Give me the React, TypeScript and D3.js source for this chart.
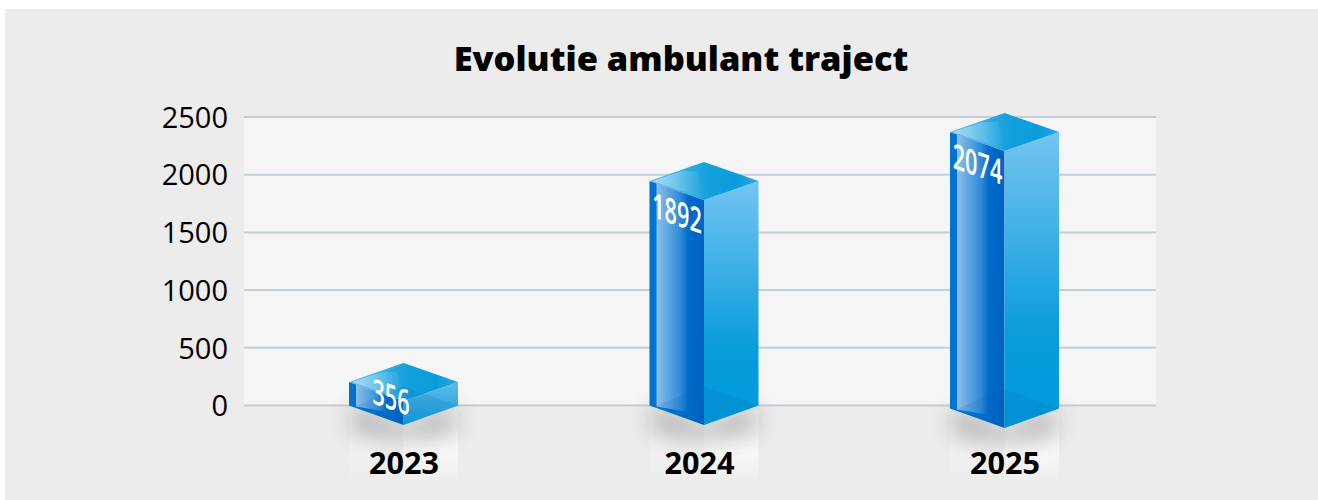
import React from "react";
import * as d3 from "d3";

const categories = ["2023", "2024", "2025"];
const values = [356, 1892, 2074];
const yTicks = [0, 500, 1000, 1500, 2000, 2500];
const title = "Evolutie ambulant traject";

const W = 1318, H = 500;
const y = d3.scaleLinear().domain([0, 2500]).range([405.5, 117]);
const x = d3.scalePoint<string>().domain(categories).range([403.5, 1004.5]);
// The bars are pictorial: their height is not linear with the y axis.
const apexY = d3.scaleLinear().domain([356, 1892, 2074]).range([363, 162, 113]);
const baseY = d3.scaleOrdinal<string, number>().domain(categories).range([425, 425, 428]);
const labelShift = d3.scaleOrdinal<string, number>().domain(categories).range([0.5, -4.5, 0.5]);
const halfW = 54.5, rise = 19;

const pts = (p: [number, number][]) => p.map((q) => q.join(",")).join(" ");

export default function App() {
  return (
    <svg width={W} height={H} style={{ position: "absolute", left: 0, top: 0, background: "#fff" }}>
      <defs>
        <linearGradient id="right" x1="0" y1="0" x2="0" y2="1">
          <stop offset="0" stopColor="#74c5f1" />
          <stop offset="0.68" stopColor="#0a9cdb" />
          <stop offset="1" stopColor="#009ad9" />
        </linearGradient>
        <linearGradient id="rightLow" x1="0" y1="0" x2="0" y2="1">
          <stop offset="0" stopColor="#5fbae8" />
          <stop offset="1" stopColor="#0f9ddb" />
        </linearGradient>
        <linearGradient id="left" x1="0" y1="0" x2="1" y2="0">
          <stop offset="0" stopColor="#0072d0" />
          <stop offset="0.5" stopColor="#0072d0" />
          <stop offset="1" stopColor="#0062c0" />
        </linearGradient>
        <linearGradient id="shine" x1="0" y1="0" x2="1" y2="0">
          <stop offset="0" stopColor="#ffffff" stopOpacity="0.55" />
          <stop offset="0.8" stopColor="#ffffff" stopOpacity="0.16" />
          <stop offset="1" stopColor="#ffffff" stopOpacity="0" />
        </linearGradient>
        <linearGradient id="top" x1="0" y1="0" x2="1" y2="0">
          <stop offset="0" stopColor="#5dbceb" />
          <stop offset="0.55" stopColor="#12a0dc" />
          <stop offset="0.8" stopColor="#0a9cda" />
          <stop offset="1" stopColor="#2aa8e0" />
        </linearGradient>
        <linearGradient id="topShine" x1="0" y1="0" x2="1" y2="0">
          <stop offset="0" stopColor="#ffffff" stopOpacity="0.5" />
          <stop offset="1" stopColor="#ffffff" stopOpacity="0" />
        </linearGradient>
        <linearGradient id="reflL" x1="0" y1="0" x2="0" y2="1">
          <stop offset="0" stopColor="#ffffff" stopOpacity="0.1" />
          <stop offset="0.6" stopColor="#ffffff" stopOpacity="0.25" />
          <stop offset="1" stopColor="#ffffff" stopOpacity="0" />
        </linearGradient>
        <linearGradient id="reflR" x1="0" y1="0" x2="0" y2="1">
          <stop offset="0" stopColor="#ffffff" stopOpacity="0.3" />
          <stop offset="0.6" stopColor="#ffffff" stopOpacity="0.6" />
          <stop offset="1" stopColor="#ffffff" stopOpacity="0" />
        </linearGradient>
        <filter id="blur" x="-40%" y="-100%" width="180%" height="300%">
          <feGaussianBlur stdDeviation="12" />
        </filter>
      </defs>

      <rect x={5} y={9} width={W - 5} height={H - 9} fill="#ececec" />
      <rect x={244} y={y(2500)} width={912} height={y(0) - y(2500)} fill="#f5f5f5" />

      {yTicks.map((t) => (
        <g key={t}>
          <line x1={244} x2={1156} y1={y(t)} y2={y(t)} stroke="#c4ced5" strokeWidth={2} />
          <text x={228} y={y(t)} dy="0.37em" textAnchor="end" fontFamily="'Open Sans'" fontSize={29} fill="#000">
            {t}
          </text>
        </g>
      ))}

      <text x={681} y={71} textAnchor="middle" fontFamily="'Open Sans'" fontWeight={800} fontSize={34.4} fill="#000">
        {title}
      </text>

      {categories.map((c, i) => {
        const cx = x(c)!;
        const v = values[i];
        const apex = apexY(v);
        const base = baseY(c);
        const l = cx - halfW, r = cx + halfW;
        const mid = apex + rise, front = apex + 2 * rise;
        const bl = base - 19.5, br = base - 19.5;
        const tall = base - front > 60;
        const labelY = mid + Math.min(32, (bl - mid) * 0.64);
        const labelX = tall ? cx - 27 : cx - 12.5;
        return (
          <g key={c}>
            <rect x={l} y={base - 15} width={halfW} height={H - base - 1} fill="url(#reflL)" />
            <rect x={cx} y={base - 15} width={halfW} height={H - base - 1} fill="url(#reflR)" />
            <polygon points={pts([[l + 4, bl + 2], [cx, base + 3], [r - 4, bl + 2], [r - 4, bl + 24], [cx, bl + 32], [l + 4, bl + 24]])} fill="#444" opacity={0.48} filter="url(#blur)" />

            <polygon points={pts([[l, mid], [cx, front], [cx, base], [l, bl]])} fill="url(#left)" />
            <polygon points={pts([[l + 7, mid + 2.5], [cx - 16, front - 6], [cx - 16, base - 13], [l + 7, bl + 1]])} fill="url(#shine)" />
            <polygon points={pts([[cx, front], [r, mid], [r, br], [cx, base]])} fill={tall ? "url(#right)" : "url(#rightLow)"} />
            <polygon points={pts([[l, mid], [cx, apex], [r, mid], [cx, front]])} fill="url(#top)" />
            <polygon points={pts([[l + 3, mid], [cx - 22, mid - 10], [cx - 6, mid - 10], [cx, front - 1]])} fill="url(#topShine)" />
            <polygon points={pts([[l + 7, bl], [cx, bl - 19], [r, bl], [cx, base]])} fill="#0a5fb0" opacity={0.13} />

            <text
              transform={`translate(${labelX},${labelY}) skewY(19) scale(0.62,1)`}
              textAnchor="middle"
              dy="0.36em"
              fontFamily="'Open Sans'"
              fontWeight={600}
              fontSize={35}
              fill="#fff"
            >
              {v}
            </text>
            <text x={cx + labelShift(c)} y={474} textAnchor="middle" fontFamily="'Open Sans'" fontWeight={700} fontSize={30.6} fill="#000">
              {c}
            </text>
          </g>
        );
      })}
    </svg>
  );
}
